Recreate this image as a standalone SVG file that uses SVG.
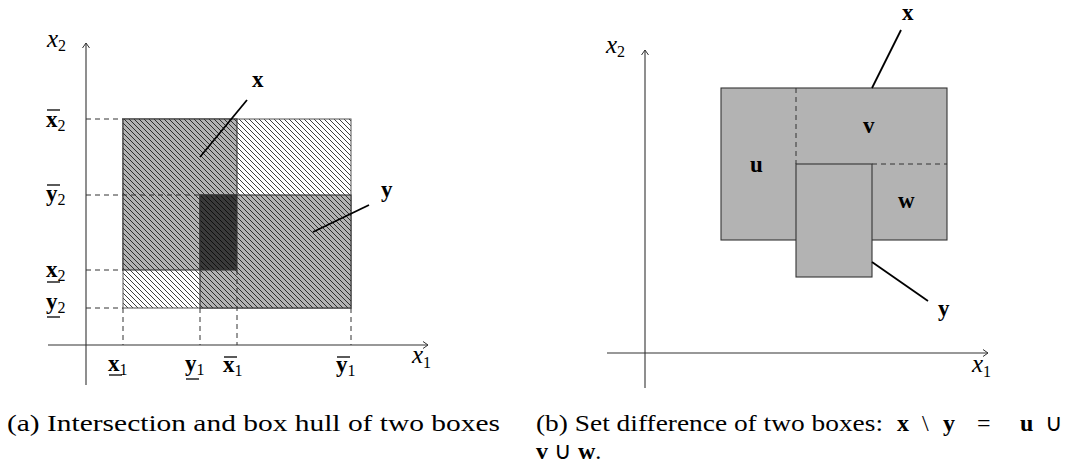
<svg xmlns="http://www.w3.org/2000/svg" width="1078" height="468" viewBox="0 0 1078 468">
<style>
.ax{stroke:#333;stroke-width:1.1;fill:none}
.ds{stroke:#333;stroke-width:1;stroke-dasharray:5,4;fill:none}
.bx{stroke:#333;stroke-width:1.1}
.ptr{stroke:#000;stroke-width:1.8}
.bar{stroke:#000;stroke-width:1.3}
.it{font-family:"Liberation Serif",serif;font-style:italic;font-size:25px}
.bd{font-family:"Liberation Serif",serif;font-weight:bold;font-size:23px}
.sub{font-family:"Liberation Serif",serif;font-size:16px;font-style:normal;font-weight:normal}
.cap{font-family:"Liberation Serif",serif;font-size:24px}
</style>
<defs>
<pattern id="hatch" patternUnits="userSpaceOnUse" width="5" height="5">
<path d="M-1,-1 L6,6 M-1,4 L1,6 M4,-1 L6,1" stroke="#000" stroke-width="0.75"/>
</pattern>
<marker id="arr" markerWidth="10" markerHeight="10" refX="7" refY="5" orient="auto" markerUnits="userSpaceOnUse">
<path d="M2,1.5 L7,5 L2,8.5" fill="none" stroke="#333" stroke-width="1"/>
</marker>
</defs>

<g id="panel-a">
<g id="hull">
<rect x="123" y="119" width="228" height="189" fill="#fff"/>
<rect x="123" y="119" width="228" height="189" fill="url(#hatch)" stroke="#555" stroke-width="1"/>
</g>
<g id="box-x">
<rect x="123" y="119" width="114" height="151" fill="#b3b3b3"/>
<rect x="123" y="119" width="114" height="151" fill="url(#hatch)" class="bx"/>
</g>
<g id="box-y">
<rect x="200" y="195" width="151" height="113" fill="#b3b3b3"/>
<rect x="200" y="195" width="151" height="113" fill="url(#hatch)" class="bx"/>
</g>
<g id="intersection">
<rect x="200" y="195" width="37" height="75" fill="#3a3a3a"/>
<rect x="200" y="195" width="37" height="75" fill="url(#hatch)" class="bx"/>
</g>
<g id="axes-a">
<line x1="86" y1="385" x2="86" y2="43" class="ax" marker-end="url(#arr)"/>
<line x1="48" y1="345" x2="428" y2="345" class="ax" marker-end="url(#arr)"/>
<text x="47" y="47" class="it">x<tspan class="sub" dy="4">2</tspan></text>
<text x="412" y="363" class="it">x<tspan class="sub" dy="5">1</tspan></text>
</g>
<g id="guides-a">
<path d="M86,119 H123 M86,195 H200 M86,270 H123 M86,308 H123" class="ds"/>
<path d="M123,308 V345 M200,308 V345 M237,270 V345 M351,308 V345" class="ds"/>
</g>
<g id="ticks-a">
<text x="46" y="127" class="bd">x<tspan class="sub" dy="4">2</tspan></text>
<line x1="47" y1="110" x2="60" y2="110" class="bar"/>
<text x="46" y="201" class="bd">y<tspan class="sub" dy="4">2</tspan></text>
<line x1="47" y1="185" x2="60" y2="185" class="bar"/>
<text x="46" y="277" class="bd">x<tspan class="sub" dy="4">2</tspan></text>
<line x1="47" y1="282" x2="60" y2="282" class="bar"/>
<text x="46" y="309" class="bd">y<tspan class="sub" dy="4">2</tspan></text>
<line x1="47" y1="317" x2="60" y2="317" class="bar"/>
<text x="108" y="371" class="bd">x<tspan class="sub" dy="4">1</tspan></text>
<line x1="109" y1="375" x2="122" y2="375" class="bar"/>
<text x="185" y="371" class="bd">y<tspan class="sub" dy="4">1</tspan></text>
<line x1="186" y1="379" x2="199" y2="379" class="bar"/>
<text x="223" y="372" class="bd">x<tspan class="sub" dy="4">1</tspan></text>
<line x1="224" y1="357" x2="237" y2="357" class="bar"/>
<text x="336" y="372" class="bd">y<tspan class="sub" dy="4">1</tspan></text>
<line x1="337" y1="357" x2="350" y2="357" class="bar"/>
</g>
<g id="label-x-a">
<line x1="247" y1="100" x2="200" y2="157" class="ptr"/>
<text x="252" y="87" class="bd">x</text>
</g>
<g id="label-y-a">
<line x1="369" y1="205" x2="313" y2="232" class="ptr"/>
<text x="381" y="197" class="bd">y</text>
</g>
</g>

<g id="panel-b">
<g id="axes-b">
<line x1="645" y1="388" x2="645" y2="50" class="ax" marker-end="url(#arr)"/>
<line x1="607" y1="353" x2="988" y2="353" class="ax" marker-end="url(#arr)"/>
<text x="606" y="53" class="it">x<tspan class="sub" dy="4">2</tspan></text>
<text x="972" y="372" class="it">x<tspan class="sub" dy="5">1</tspan></text>
</g>
<g id="box-x-b">
<rect x="721" y="88" width="226" height="152" fill="#b3b3b3" class="bx"/>
</g>
<g id="box-y-b">
<rect x="796" y="164" width="76" height="113" fill="#b3b3b3" class="bx"/>
</g>
<g id="splits">
<path d="M796,88 V164 M872,164 H947" class="ds"/>
</g>
<g id="label-u"><text x="750" y="172" class="bd">u</text></g>
<g id="label-v"><text x="863" y="133" class="bd">v</text></g>
<g id="label-w"><text x="898" y="208" class="bd">w</text></g>
<g id="label-x-b">
<line x1="901" y1="30" x2="872" y2="88" class="ptr"/>
<text x="902" y="20" class="bd">x</text>
</g>
<g id="label-y-b">
<line x1="872" y1="262" x2="928" y2="301" class="ptr"/>
<text x="938" y="316" class="bd">y</text>
</g>
</g>

<g id="captions">
<text x="7" y="431" class="cap" textLength="493" lengthAdjust="spacingAndGlyphs">(a) Intersection and box hull of two boxes</text>
<text x="536" y="431" class="cap" textLength="347" lengthAdjust="spacingAndGlyphs">(b) Set difference of two boxes:</text>
<text x="897" y="431" class="cap" font-weight="bold">x</text>
<text x="922" y="431" class="cap">\</text>
<text x="943" y="431" class="cap" font-weight="bold">y</text>
<text x="977" y="431" class="cap">=</text>
<text x="1020" y="431" class="cap" font-weight="bold">u</text>
<text x="1045" y="431" class="cap">∪</text>
<text x="536" y="459" class="cap"><tspan font-weight="bold">v</tspan> ∪ <tspan font-weight="bold">w</tspan>.</text>
</g>
</svg>
